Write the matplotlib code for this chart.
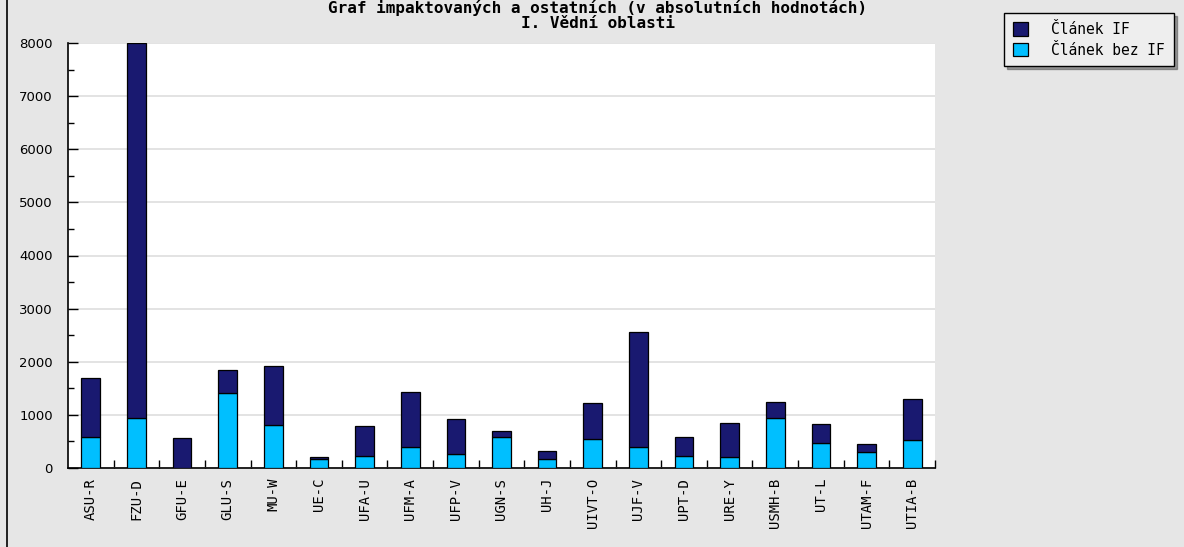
import numpy as np
import matplotlib
matplotlib.use("Agg")
import matplotlib.pyplot as plt
from matplotlib.lines import Line2D

# Data
categories = ["ASU-R", "FZU-D", "GFU-E", "GLU-S", "MU-W", "UE-C", "UFA-U",
              "UFM-A", "UFP-V", "UGN-S", "UH-J", "UIVT-O", "UJF-V", "UPT-D",
              "URE-Y", "USMH-B", "UT-L", "UTAM-F", "UTIA-B"]
# totals of both parts
totals = [1700, 8000, 560, 1840, 1920, 210, 790,
          1440, 930, 700, 320, 1230, 2560, 585,
          850, 1250, 825, 455, 1305]
# "Článek bez IF" (bottom part)
bez_if = [580, 950, 0, 1405, 810, 170, 225,
          390, 255, 580, 175, 550, 390, 230,
          200, 950, 470, 305, 520]
s_if = [t - b for t, b in zip(totals, bez_if)]

dark = "#191970"
light = "#00bfff"
bg = "#e6e6e6"
mono = "DejaVu Sans Mono"

fig = plt.figure(figsize=(11.84, 5.47), dpi=100, facecolor=bg)
ax = fig.add_axes([68 / 1184, 1 - 468 / 547, (935 - 68) / 1184, (468 - 43) / 547])
ax.set_facecolor("white")

x = np.arange(len(categories))
w = 0.41
ax.bar(x, bez_if, w, color=light, edgecolor="black", linewidth=0.9,
       label="Článek bez IF", zorder=3)
ax.bar(x, s_if, w, bottom=bez_if, color=dark, edgecolor="black", linewidth=0.9,
       label="Článek IF", zorder=3)

ax.set_xlim(-0.5, len(categories) - 0.5)
ax.set_ylim(0, 8000)

# y axis
ax.set_yticks(np.arange(0, 8001, 1000))
ax.set_yticks(np.arange(500, 8000, 1000), minor=True)
ax.tick_params(axis="y", which="major", direction="in", length=7, width=1,
               labelsize=9.5, pad=11, colors="black")
ax.tick_params(axis="y", which="minor", direction="in", length=4, width=1)
ax.yaxis.grid(True, color="#dedede", linewidth=1.2, zorder=0)

# x axis: ticks on category boundaries, labels at centres
ax.set_xticks(np.arange(0.5, len(categories) - 0.5 + 1e-9, 1.0))
ax.set_xticklabels([])
ax.set_xticks(x, minor=True)
ax.set_xticklabels(categories, minor=True, rotation=90, family=mono, fontsize=10)
ax.tick_params(axis="x", which="major", direction="in", length=6, width=1)
ax.tick_params(axis="x", which="minor", length=0, pad=7)

for s in ["top", "right"]:
    ax.spines[s].set_visible(False)
for s in ["left", "bottom"]:
    ax.spines[s].set_linewidth(1.2)

# title
fig.text(0.505, 1 - 8 / 547, "Graf impaktovaných a ostatních (v absolutních hodnotách)",
         ha="center", va="center", family=mono, fontsize=11.5, fontweight="bold")
fig.text(0.505, 1 - 24 / 547, "I. Vědní oblasti",
         ha="center", va="center", family=mono, fontsize=11.5, fontweight="bold")

# legend
h, l = ax.get_legend_handles_labels()
leg = fig.legend(h[::-1], l[::-1], loc="upper left",
                 bbox_to_anchor=(1004 / 1184, 1 - 13 / 547), borderaxespad=0,
                 frameon=True, fancybox=False, shadow=True, edgecolor="black",
                 facecolor="#eeeeee", framealpha=1,
                 prop={"family": mono, "size": 10.5},
                 handlelength=1.05, handleheight=1.05, handletextpad=1.6,
                 labelspacing=0.4, borderpad=0.6)
leg.get_frame().set_linewidth(1.0)

# left border of the image
fig.add_artist(Line2D([7 / 1184, 7 / 1184], [0, 1], color="black", linewidth=1.2,
                      transform=fig.transFigure))

fig.savefig("out.png", dpi=100, facecolor=bg)
